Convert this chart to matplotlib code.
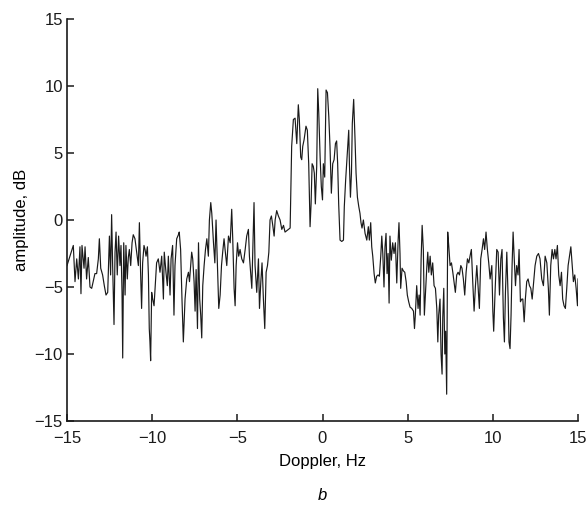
import matplotlib
matplotlib.use("Agg")
import matplotlib.pyplot as plt

doppler_hz = [
    -15.00, -14.63, -14.53, -14.43, -14.33, -14.24, -14.18, -14.12, -14.00, -13.94,
    -13.85, -13.75, -13.65, -13.55, -13.45, -13.36, -13.26, -13.16, -13.10, -13.02,
    -12.91, -12.81, -12.71, -12.61, -12.51, -12.44, -12.38, -12.32, -12.24, -12.18,
    -12.12, -12.05, -11.97, -11.89, -11.83, -11.77, -11.73, -11.67, -11.59, -11.54,
    -11.46, -11.40, -11.34, -11.26, -11.18, -11.11, -11.01, -10.91, -10.81, -10.75,
    -10.68, -10.62, -10.56, -10.48, -10.42, -10.36, -10.28, -10.22, -10.17, -10.13,
    -10.09, -10.03, -9.97, -9.89, -9.83, -9.74, -9.64, -9.54, -9.44, -9.34,
    -9.29, -9.19, -9.11, -9.05, -8.95, -8.89, -8.80, -8.72, -8.66, -8.56,
    -8.46, -8.41, -8.33, -8.25, -8.17,
    -8.07, -7.97, -7.87, -7.81, -7.73, -7.68, -7.62, -7.54, -7.48, -7.42,
    -7.34, -7.28, -7.21, -7.15, -7.09, -7.03, -6.95, -6.87, -6.79, -6.70,
    -6.64, -6.56, -6.50, -6.40, -6.32, -6.25, -6.17, -6.09, -6.01, -5.93,
    -5.86, -5.78, -5.72, -5.62, -5.52, -5.42, -5.33, -5.27, -5.19, -5.13,
    -5.07, -4.99, -4.92, -4.84, -4.74, -4.64, -4.54, -4.45, -4.35, -4.29,
    -4.21, -4.15, -4.09, -4.02, -3.96, -3.86, -3.76, -3.70, -3.62, -3.55,
    -3.47, -3.39, -3.31, -3.23, -3.15, -3.08, -3.00, -2.92, -2.84, -2.78,
    -2.69, -2.59, -2.49, -2.39, -2.29, -2.20, -2.10, -2.00, -1.90,
    -1.87, -1.81, -1.71, -1.61, -1.51, -1.42, -1.36, -1.28, -1.22, -1.16,
    -1.08, -0.97, -0.89, -0.81, -0.73, -0.67, -0.61, -0.54, -0.48, -0.42,
    -0.34, -0.28, -0.22, -0.14, -0.07, 0.00, 0.05, 0.13, 0.21, 0.29,
    0.37, 0.44, 0.52, 0.60, 0.68, 0.76, 0.83, 0.89, 0.95, 1.03,
    1.13, 1.23, 1.28, 1.36, 1.42, 1.48, 1.54, 1.58, 1.64, 1.70,
    1.75, 1.83, 1.91, 1.97, 2.05, 2.13, 2.20, 2.26, 2.32, 2.40,
    2.50, 2.60, 2.69, 2.75, 2.83, 2.89, 2.95, 3.03, 3.10, 3.18,
    3.26, 3.34, 3.42, 3.48, 3.54, 3.61, 3.67, 3.73, 3.79, 3.85,
    3.91, 3.96, 4.04, 4.12, 4.20, 4.28, 4.36, 4.44, 4.49, 4.55,
    4.59, 4.67, 4.75, 4.83, 4.91, 4.98, 5.06, 5.14, 5.24, 5.34,
    5.40, 5.45, 5.53, 5.61, 5.67, 5.73, 5.79, 5.85, 5.92, 5.98,
    6.04, 6.12, 6.18, 6.24, 6.32, 6.39, 6.47, 6.55, 6.63, 6.71,
    6.77, 6.82, 6.90, 6.96, 7.02, 7.06, 7.12, 7.18, 7.23, 7.29,
    7.35, 7.41, 7.49, 7.57, 7.65, 7.72, 7.80, 7.88, 7.96, 8.04,
    8.12, 8.19, 8.27, 8.35, 8.43, 8.51, 8.59, 8.66, 8.74, 8.82,
    8.90, 8.98, 9.06, 9.13, 9.21, 9.29, 9.37, 9.45, 9.52, 9.60,
    9.68, 9.76, 9.84,
    9.94, 10.00, 10.05, 10.13, 10.23, 10.31, 10.39, 10.47, 10.54, 10.62,
    10.68, 10.74, 10.82, 10.90, 10.95, 11.01, 11.07, 11.13, 11.19, 11.25,
    11.33, 11.40, 11.48, 11.54, 11.62, 11.70, 11.76, 11.84, 11.91, 11.99,
    12.07, 12.15, 12.23, 12.31, 12.38, 12.48, 12.58, 12.68, 12.77, 12.87,
    12.97, 13.07, 13.17, 13.26, 13.32, 13.40, 13.48, 13.56, 13.64, 13.71,
    13.79, 13.87, 13.95, 14.03, 14.10, 14.18, 14.26, 14.34, 14.42, 14.50,
    14.58, 14.65, 14.73, 14.81, 14.89, 14.97, 15.00,
]

amplitude_db = [
    -3.4, -1.9, -4.6, -2.9, -4.4, -2.0, -5.5, -1.9, -3.6, -2.0,
    -4.4, -2.8, -5.0, -5.1, -4.5, -4.0, -4.0, -2.9, -1.4, -3.6,
    -4.1, -4.9, -5.6, -5.4, -1.2, -4.1, 0.4, -3.4, -7.8, -2.4,
    -0.9, -4.1, -1.2, -3.4, -1.9, -5.4, -10.3, -1.7, -5.6, -1.9,
    -4.4, -2.8, -2.2, -3.4, -1.7, -1.1, -1.4, -2.4, -3.4, -0.2,
    -3.9, -6.6, -3.2, -1.9, -2.2, -2.7, -2.0, -4.1, -8.1, -9.1,
    -10.5, -5.4, -5.9, -6.4, -5.1, -3.2, -2.9, -3.9, -2.7, -5.9,
    -2.4, -3.9, -4.9, -2.7, -5.6, -2.9, -1.9, -7.1, -3.4, -1.4,
    -1.1, -0.9, -2.2, -5.9, -9.1,
    -5.9, -4.4, -3.9, -4.6, -3.2, -2.4, -2.9, -4.6, -6.8, -3.7,
    -8.1, -1.7, -5.9, -7.1, -8.8, -4.9, -3.4, -2.2, -1.4, -2.7,
    0.0, 1.3, 0.5, -1.7, -3.2, 0.0, -3.4, -6.6, -5.6, -3.4,
    -2.4, -1.4, -2.2, -3.4, -1.2, -1.7, 0.8, -1.4, -5.1, -6.4,
    -3.4, -1.7, -2.7, -2.2, -2.9, -3.2, -2.2, -1.2, -0.7, -2.7,
    -4.1, -5.1, -2.2, 1.3, -3.4, -5.4, -2.9, -6.6, -4.6, -3.2,
    -5.9, -8.1, -3.9, -3.4, -2.4, 0.0, 0.3, -0.4, -1.2, 0.0,
    0.7, 0.3, 0.0, -0.7, -0.4, -0.9, -0.8, -0.7, -0.6,
    1.5, 5.5, 7.5, 7.6, 5.7, 8.6, 7.5, 4.7, 4.5, 5.5,
    6.0, 7.0, 6.7, 4.2, -0.5, 1.2, 4.2, 4.0, 3.5, 1.2,
    4.0, 9.8, 8.0, 4.7, 2.5, 1.5, 4.2, 3.2, 9.7, 9.5,
    7.7, 5.5, 2.0, 4.2, 4.5, 5.7, 5.9, 4.2, 1.2, -1.5,
    -1.6, -1.5, 1.0, 3.0, 4.2, 5.5, 6.7, 4.2, 1.7, 3.5,
    7.2, 9.0, 6.0, 3.5, 1.7, 1.0, 0.5, -0.2, -0.6, 0.0,
    -1.0, -1.5, -0.5, -1.5, -0.2, -2.0, -2.7, -4.0, -4.7, -4.2,
    -4.1, -4.2, -2.7, -1.2, -2.5, -5.0, -2.0, -1.0, -4.0, -2.5,
    -6.2, -1.2, -3.0, -1.7, -2.5, -1.7, -4.7, -1.5, -0.2, -2.5,
    -5.1, -3.6, -3.8, -3.9, -4.6, -5.6, -6.1, -6.5, -6.6, -6.8,
    -8.1, -7.1, -4.9, -6.6, -5.6, -7.1, -2.9, -0.4, -2.2, -7.1,
    -5.6, -3.6, -2.4, -3.9, -2.7, -4.1, -3.2, -4.9, -5.1, -6.6,
    -9.1, -7.1, -5.9, -10.0, -11.5, -7.3, -5.1, -10.0, -8.3, -13.0,
    -0.9, -1.9, -3.4, -3.2, -3.9, -4.6, -5.4, -4.1, -3.9, -4.1,
    -3.4, -3.6, -4.4, -5.6, -3.9, -2.9, -3.2, -2.7, -2.2, -4.6,
    -6.8, -4.9, -3.4, -4.9, -6.6, -2.9, -2.2, -1.4, -2.2, -0.9,
    -2.2, -3.2, -4.4,
    -3.4, -6.8, -8.3, -5.4, -2.2, -2.4, -5.6, -2.9, -2.2, -7.3,
    -9.1, -5.4, -2.4, -5.9, -9.1, -9.6, -7.1, -3.4, -0.9, -2.7,
    -4.9, -3.4, -4.1, -2.2, -6.1, -5.9, -5.9, -7.6, -5.9, -4.6,
    -4.4, -4.9, -5.1, -5.9, -4.9, -3.4, -2.7, -2.5, -2.9, -4.4,
    -4.9, -2.7, -3.2, -5.1, -7.1, -3.4, -2.2, -2.9, -2.2, -2.9,
    -1.9, -4.1, -4.9, -3.9, -5.9, -6.4, -6.6, -5.1, -3.4, -2.7,
    -2.0, -3.2, -4.6, -4.1, -5.1, -6.4, -4.4,
]

x_ticks = [-15, -10, -5, 0, 5, 10, 15]
y_ticks = [-15, -10, -5, 0, 5, 10, 15]
x_label = "Doppler, Hz"
y_label = "amplitude, dB"
panel_label = "b"

plt.rcParams['font.family'] = ['Liberation Sans', 'DejaVu Sans']

fig = plt.figure(figsize=(5.87, 5.05), dpi=100)
ax = fig.add_axes([67 / 587, 1 - 421 / 505, (578 - 67) / 587, (421 - 19) / 505])

ax.plot(doppler_hz, amplitude_db, color="#1a1a1a", linewidth=0.85)

ax.set_xlim(-15, 15)
ax.set_ylim(-15, 15)
ax.set_xticks(x_ticks)
ax.set_yticks(y_ticks)
ax.set_xticklabels([str(t).replace("-", "\u2212") for t in x_ticks])
ax.set_yticklabels([str(t).replace("-", "\u2212") for t in y_ticks])

for side in ("top", "right"):
    ax.spines[side].set_visible(False)
for side in ("left", "bottom"):
    ax.spines[side].set_linewidth(1.2)
    ax.spines[side].set_color("#1a1a1a")

ax.tick_params(direction="in", length=5, width=1.1, labelsize=12, colors="#1a1a1a")
ax.tick_params(axis="x", pad=7)
ax.tick_params(axis="y", pad=3)
ax.set_xlabel(x_label, fontsize=12, labelpad=6)
ax.set_ylabel(y_label, fontsize=12, labelpad=4)

fig.text(322 / 587, 1 - 496 / 505, panel_label, fontsize=12, style="italic",
         ha="center", va="center")

fig.savefig("out.png", dpi=100)
